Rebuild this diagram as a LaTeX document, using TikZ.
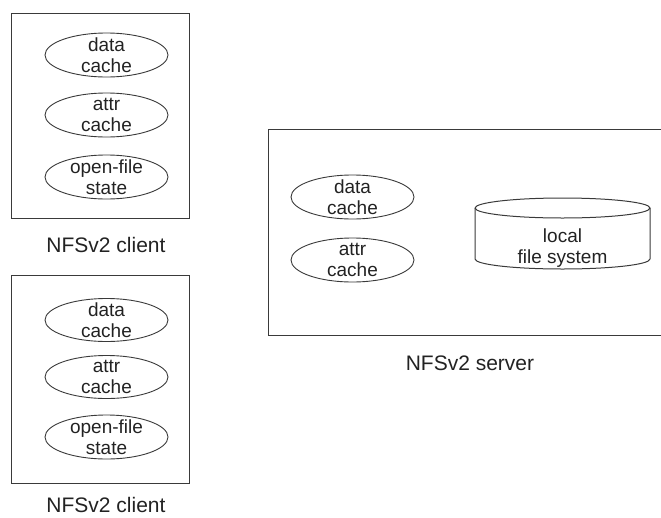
\documentclass[tikz,border=0pt]{standalone}
\usepackage{fontspec}
\setmainfont{Liberation Sans}
\usetikzlibrary{shapes.geometric}
\definecolor{linegray}{HTML}{3A3A3A}
\definecolor{textgray}{HTML}{222222}
\tikzset{
  cacheoval/.style={ellipse, draw=linegray, line width=0.9pt, minimum width=123pt, minimum height=44pt, inner sep=0pt},
  intext/.style={align=center, text=textgray, font=\fontsize{19}{21}\selectfont, inner sep=0pt},
  caption/.style={text=textgray, font=\fontsize{21}{24}\selectfont, inner sep=0pt, anchor=base},
  boxline/.style={draw=linegray, line width=1pt}
}
\begin{document}
\begin{tikzpicture}[x=1pt,y=-1pt]
\useasboundingbox (0,0) rectangle (661,517);
% top client
\node[boxline, minimum width=178pt, minimum height=205pt, inner sep=0pt] (c1box) at (100,115.5) {};
\node[cacheoval] (c1data) at (106.5,55) {};
\node[intext] (c1datat) at (c1data.center) {data\\cache};
\node[cacheoval] (c1attr) at (106.5,115) {};
\node[intext] (c1attrt) at (c1attr.center) {attr\\cache};
\node[cacheoval] (c1open) at (106.5,177) {};
\node[intext] (c1opent) at (c1open.center) {open-file\\state};
\node[caption] (c1lab) at (106,252) {NFSv2 client};
% bottom client
\node[boxline, minimum width=178pt, minimum height=208pt, inner sep=0pt] (c2box) at (100,379) {};
\node[cacheoval, minimum height=43pt] (c2data) at (106.5,320) {};
\node[intext] (c2datat) at (c2data.center) {data\\cache};
\node[cacheoval, minimum height=43pt] (c2attr) at (106.5,377) {};
\node[intext] (c2attrt) at (c2attr.center) {attr\\cache};
\node[cacheoval, minimum height=44pt] (c2open) at (106.5,437) {};
\node[intext] (c2opent) at (c2open.center) {open-file\\state};
\node[caption] (c2lab) at (106,512) {NFSv2 client};
% server
\coordinate (stl) at (268,129);
\coordinate (sbl) at (268,335);
\coordinate (str) at (661,129);
\coordinate (sbr) at (661,335);
\draw[boxline] (str) -- (stl) -- (sbl) -- (sbr);
\node[cacheoval] (sdata) at (352.5,197) {};
\node[intext] (sdatat) at (sdata.center) {data\\cache};
\node[cacheoval] (sattr) at (352.5,260) {};
\node[intext] (sattrt) at (sattr.center) {attr\\cache};
% cylinder
\coordinate (cyltl) at (475,208);
\coordinate (cylbl) at (475,259);
\draw[boxline] (cyltl) -- (cylbl) arc[start angle=180, end angle=0, x radius=87.5, y radius=10] -- (650,208) arc[start angle=0, end angle=-180, x radius=87.5, y radius=10] -- cycle;
\draw[boxline] (cyltl) arc[start angle=180, end angle=0, x radius=87.5, y radius=10];
\node[intext] (lfs) at (562.5,248) {local\\file system};
\node[caption] (slab) at (470,370) {NFSv2 server};
\end{tikzpicture}
\end{document}
